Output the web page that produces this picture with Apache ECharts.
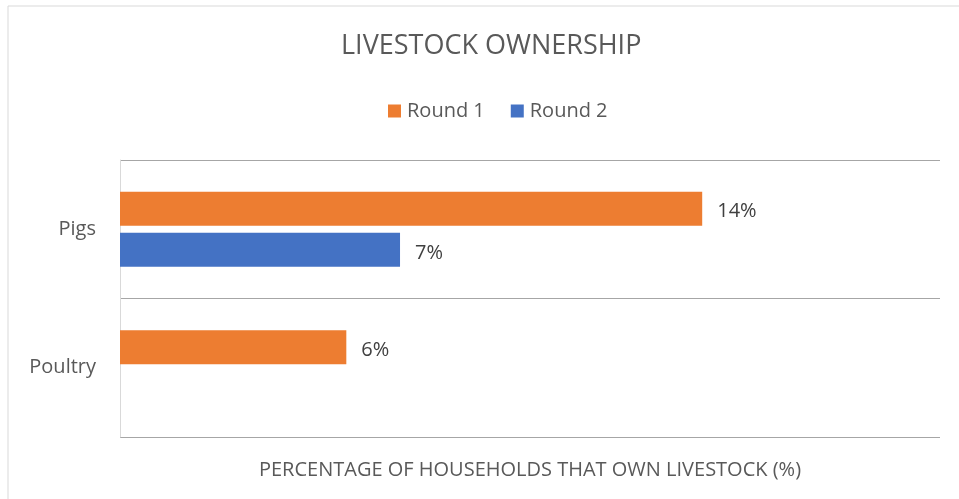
<!DOCTYPE html>
<html>
<head>
<meta charset="utf-8">
<script src="https://cdn.jsdelivr.net/npm/echarts@6/dist/echarts.min.js"></script>
<style>
  html, body { margin: 0; padding: 0; background: #fff; }
  #main { width: 959px; height: 499px; }
</style>
</head>
<body>
<div id="main"></div>
<script>
// 数据
var categories = ['Pigs', 'Poultry'];
var round1 = [14.2, 5.52];
var round2 = [6.83, null];
var seriesNames = ['Round 1', 'Round 2'];

var FONT = '"Open Sans", "Noto Sans", sans-serif';
var TEXT = '#595959';

var chart = echarts.init(document.getElementById('main'));

function pctLabel(p) {
  return Math.round(p.value) + '%';
}

var option = {
  animation: false,
  color: ['#ED7D31', '#4472C4'],
  title: {
    text: 'LIVESTOCK OWNERSHIP',
    left: 336,
    top: 28,
    textStyle: { fontFamily: FONT, fontSize: 27, fontWeight: 'normal', color: TEXT }
  },
  legend: {
    data: seriesNames,
    left: 383,
    top: 96,
    itemWidth: 13,
    itemHeight: 13,
    itemGap: 26,
    icon: 'rect',
    textStyle: { fontFamily: FONT, fontSize: 20, color: TEXT, padding: [0, 0, 0, 1] }
  },
  graphic: [{
    type: 'rect',
    shape: { x: 8, y: 6, width: 980, height: 520 },
    style: { fill: 'none', stroke: '#d9d9d9', lineWidth: 1 },
    silent: true
  }],
  grid: { left: 120, right: 19, top: 160, bottom: 62 },
  xAxis: {
    type: 'value',
    min: 0,
    max: 20,
    name: 'PERCENTAGE OF HOUSEHOLDS THAT OWN LIVESTOCK (%)',
    nameLocation: 'middle',
    nameGap: 23,
    nameTextStyle: { fontFamily: FONT, fontSize: 20, color: TEXT },
    axisLabel: { show: false },
    axisTick: { show: false },
    axisLine: { show: false },
    splitLine: { show: false }
  },
  yAxis: {
    type: 'category',
    inverse: true,
    data: categories,
    axisTick: { show: false },
    axisLine: { show: true, lineStyle: { color: '#d9d9d9', width: 1 } },
    axisLabel: { fontFamily: FONT, fontSize: 20, color: TEXT, margin: 24 },
    splitLine: { show: true, lineStyle: { color: '#a6a6a6', width: 1 } }
  },
  series: [{
    name: seriesNames[0],
    type: 'bar',
    data: round1,
    barWidth: 34,
    barGap: '21%',
    label: { show: true, position: 'right', distance: 15, offset: [0, 3], formatter: pctLabel,
             fontFamily: FONT, fontSize: 20, color: '#404040' }
  }, {
    name: seriesNames[1],
    type: 'bar',
    data: round2,
    barWidth: 34,
    label: { show: true, position: 'right', distance: 15, offset: [0, 3], formatter: pctLabel,
             fontFamily: FONT, fontSize: 20, color: '#404040' }
  }]
};

chart.setOption(option);
</script>
</body>
</html>
